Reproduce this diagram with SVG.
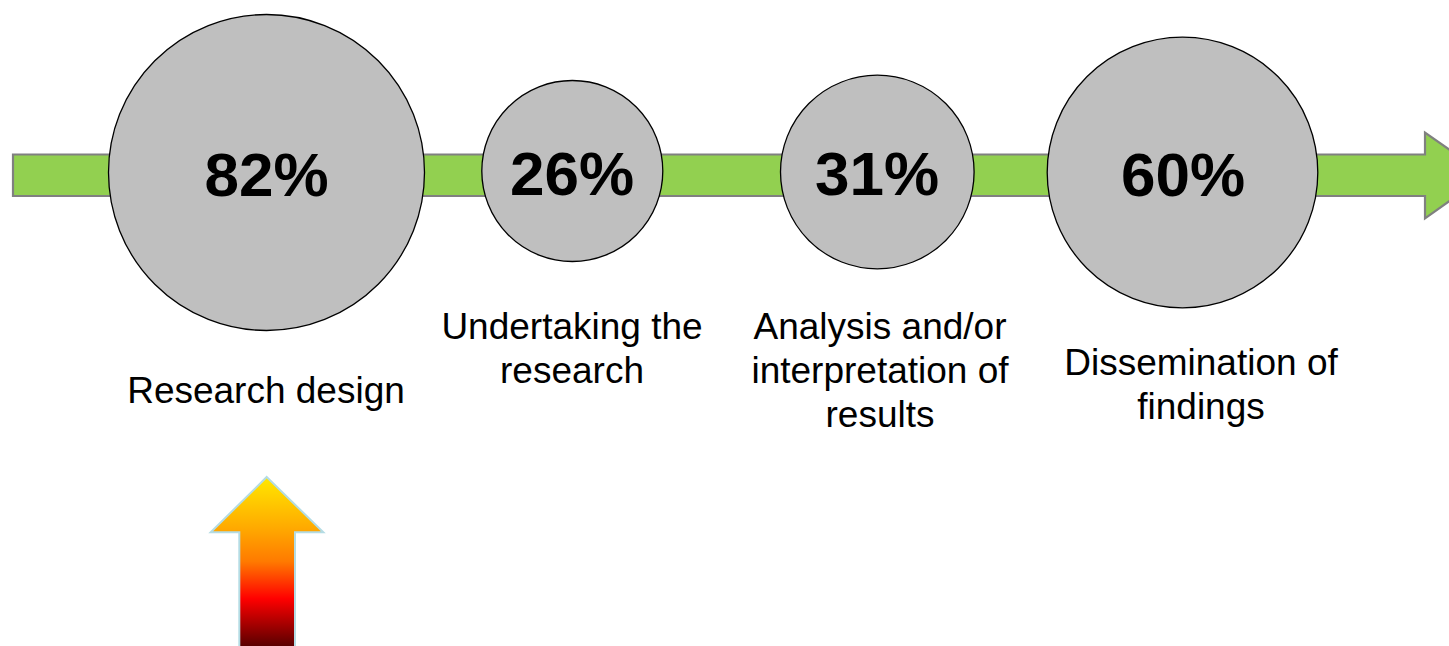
<svg xmlns="http://www.w3.org/2000/svg" width="1449" height="646" viewBox="0 0 1449 646">
<defs>
<linearGradient id="fire" x1="0" y1="477" x2="0" y2="646" gradientUnits="userSpaceOnUse">
<stop offset="0" stop-color="#FFE800"/>
<stop offset="0.3" stop-color="#FFAA00"/>
<stop offset="0.5" stop-color="#FF7A00"/>
<stop offset="0.72" stop-color="#FF0000"/>
<stop offset="1" stop-color="#5A0000"/>
</linearGradient>
<style>
.node circle{fill:#BFBFBF;stroke:#000;stroke-width:1.3}
.pct{font-family:"Liberation Sans",Arial,sans-serif;font-weight:bold;font-size:62px;fill:#000;text-anchor:middle}
.lbl{font-family:"Liberation Sans",Arial,sans-serif;font-size:37px;fill:#000;text-anchor:middle}
</style>
</defs>
<rect width="1449" height="646" fill="#fff"/>
<g id="connectors">
<path d="M13,154.5 H1425 V132.5 L1486,175.3 L1425,218.3 V196 H13 Z" fill="#92D050" stroke="#808080" stroke-width="2.2"/>
</g>
<g id="node-research-design" class="node">
<circle cx="266.5" cy="172.5" r="158"/>
<text class="pct" x="266.5" y="196">82%</text>
<text class="lbl" x="266" y="403">Research design</text>
</g>
<g id="node-undertaking" class="node">
<circle cx="572.3" cy="171" r="90.5"/>
<text class="pct" x="572" y="195">26%</text>
<text class="lbl" x="572" y="339">Undertaking the</text>
<text class="lbl" x="572" y="383">research</text>
</g>
<g id="node-analysis" class="node">
<circle cx="877.3" cy="172" r="96.8"/>
<text class="pct" x="877" y="195">31%</text>
<text class="lbl" x="880" y="339">Analysis and/or</text>
<text class="lbl" x="880" y="383">interpretation of</text>
<text class="lbl" x="880" y="427">results</text>
</g>
<g id="node-dissemination" class="node">
<circle cx="1182.5" cy="172.5" r="135.3"/>
<text class="pct" x="1183" y="195.5">60%</text>
<text class="lbl" x="1201" y="375">Dissemination of</text>
<text class="lbl" x="1201" y="419">findings</text>
</g>
<g id="highlight-arrow">
<path d="M266.7,477 L323.3,532.3 H295 V648 H239.3 V532.3 H210.7 Z" fill="url(#fire)" stroke="#B4DCE4" stroke-width="2"/>
</g>
</svg>
